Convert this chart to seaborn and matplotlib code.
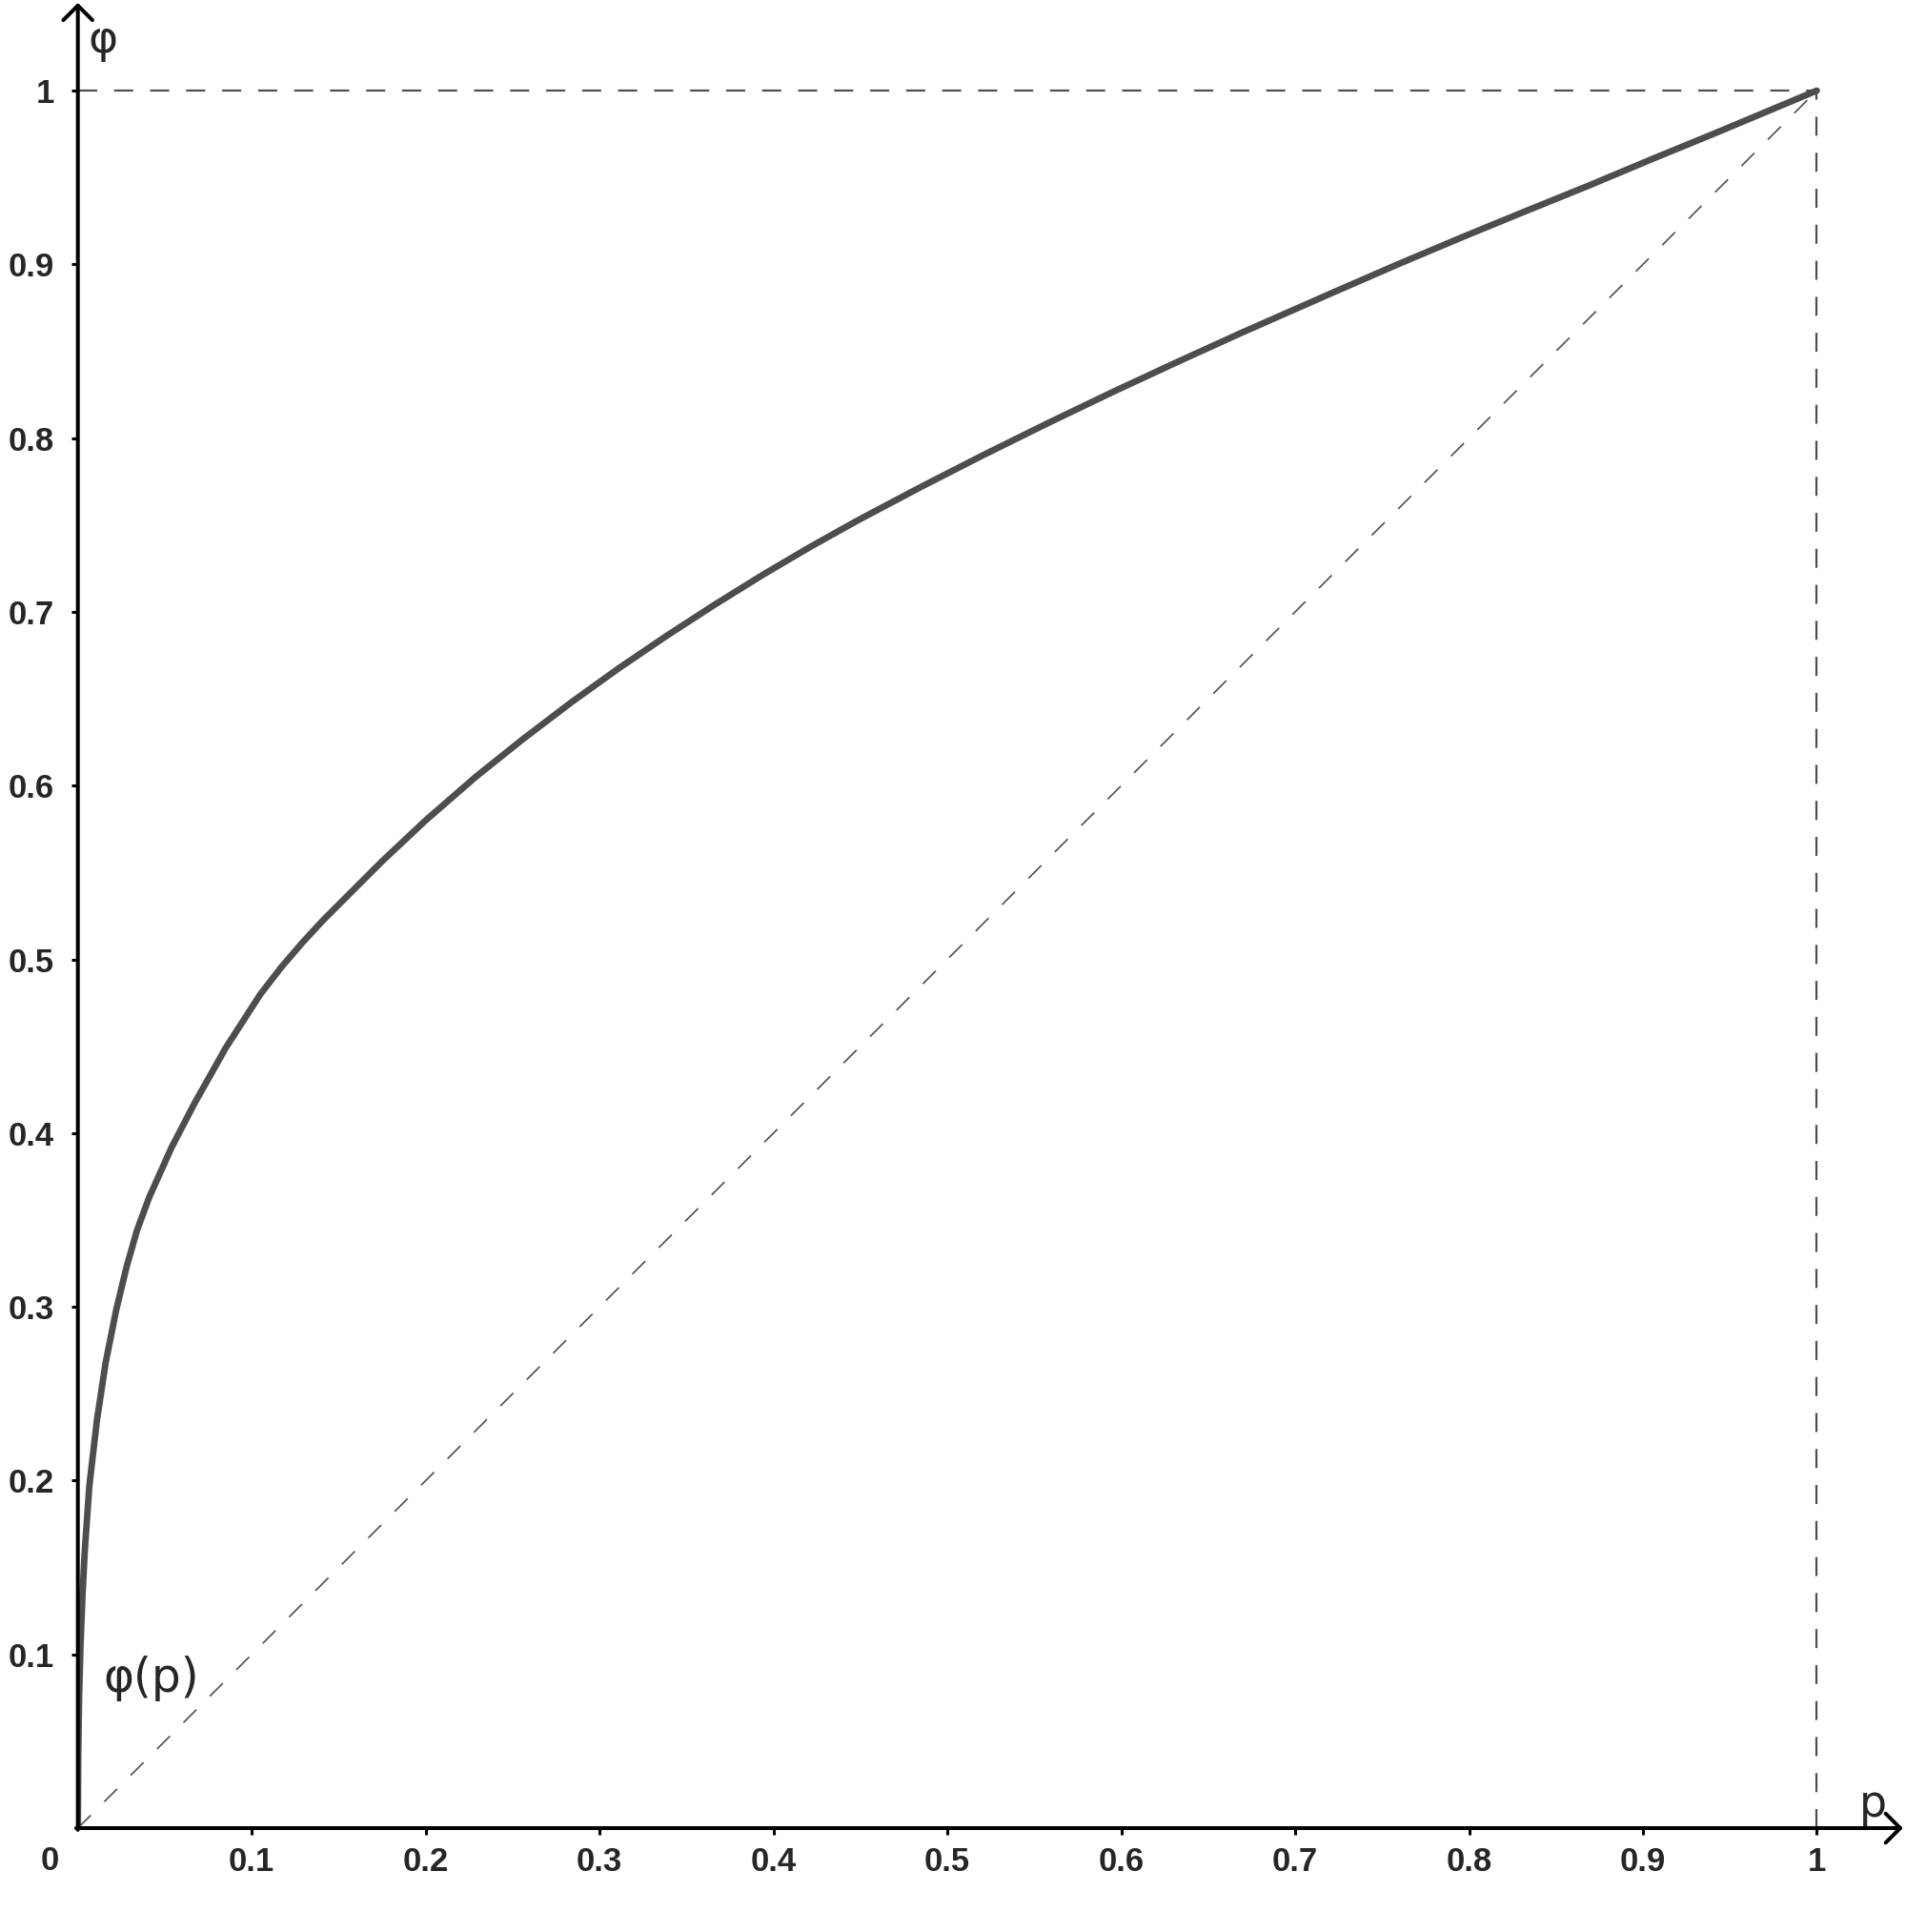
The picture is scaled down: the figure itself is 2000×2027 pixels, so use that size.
import numpy as np
import matplotlib
matplotlib.use("Agg")
import matplotlib.pyplot as plt
import seaborn as sns

# curve phi(p), values
p_vals = [0.0, 0.0002, 0.0007, 0.0015, 0.0027, 0.004, 0.0066, 0.011, 0.016,
          0.022, 0.028, 0.034, 0.041, 0.054, 0.067, 0.085, 0.105, 0.117,
          0.129, 0.141, 0.154, 0.175, 0.2, 0.229, 0.256, 0.284, 0.311, 0.339,
          0.366, 0.394, 0.421, 0.448, 0.485, 0.521, 0.558, 0.595, 0.632,
          0.668, 0.722, 0.759, 0.795, 0.832, 0.869, 0.905, 0.942, 1.0]
phi_vals = [0.0, 0.04, 0.075, 0.105, 0.135, 0.16, 0.197, 0.235, 0.268,
            0.298, 0.323, 0.344, 0.363, 0.392, 0.417, 0.449, 0.48, 0.4955,
            0.5095, 0.5225, 0.5355, 0.5565, 0.58, 0.6052, 0.6268, 0.6481, 0.6675,
            0.6865, 0.704, 0.7214, 0.7373, 0.7524, 0.772, 0.7904, 0.8087, 0.8265,
            0.8437, 0.8601, 0.8839, 0.9, 0.9152, 0.9304, 0.9454, 0.9605, 0.9757, 1.0]

# reference lines
diag_x = [0, 1]
diag_y = [0, 1]
top_x = [0, 1]
top_y = [1, 1]
right_x = [1, 1]
right_y = [0, 1]

tick_vals = [0.1, 0.2, 0.3, 0.4, 0.5, 0.6, 0.7, 0.8, 0.9, 1.0]
tick_labels = ["0.1", "0.2", "0.3", "0.4", "0.5", "0.6", "0.7", "0.8", "0.9", "1"]

sns.set_style("white")
plt.rcParams['font.family'] = ['Liberation Sans', 'DejaVu Sans']

fig = plt.figure(figsize=(20, 20.27), dpi=100)
ax = fig.add_axes([0.04085, 0.05377, 0.958, 0.9443])
ax.set_xlim(0, 1.05)
ax.set_ylim(0, 1.05)
for s in ax.spines.values():
    s.set_visible(False)

dash_col = "#4f4f4f"
ax.plot(top_x, top_y, color=dash_col, lw=1.6, linestyle=(0, (9, 8)), zorder=2)
ax.plot(right_x, right_y, color=dash_col, lw=1.6, linestyle=(0, (9, 8)), zorder=2)
ax.plot(diag_x, diag_y, color=dash_col, lw=1.2, linestyle=(0, (11.5, 12)), zorder=2)

sns.lineplot(x=p_vals, y=phi_vals, ax=ax, color="#4d4d4d", lw=4.9,
             solid_capstyle="round", solid_joinstyle="round", zorder=4)

# axes with open arrow heads
arrow = dict(arrowstyle="->,head_length=0.55,head_width=0.55", lw=2.9,
             color="black", shrinkA=0, shrinkB=0, mutation_scale=20)
ax.annotate("", xy=(1.0495, 0), xytext=(-0.001, 0), arrowprops=arrow,
            annotation_clip=False, zorder=5)
ax.annotate("", xy=(0, 1.0505), xytext=(0, -0.001), arrowprops=arrow,
            annotation_clip=False, zorder=5)

ax.set_xticks(tick_vals)
ax.set_xticklabels(tick_labels, fontweight="bold", fontsize=25)
ax.set_yticks(tick_vals)
ax.set_yticklabels(tick_labels, fontweight="bold", fontsize=25)
ax.tick_params(axis="x", direction="out", length=5, width=2.2, pad=9,
               color="black", bottom=True)
ax.tick_params(axis="y", direction="out", length=5, width=2.2, pad=13,
               color="black", left=True)

ax.text(-0.0163, -0.0187, "0", fontsize=25, fontweight="bold",
        ha="center", va="center")
lab_font = ['DejaVu Sans']
ax.text(0.0058, 1.0288, "φ", fontsize=34, family=lab_font,
        ha="left", va="center", clip_on=False)
ax.text(1.0245, 0.0135, "p", fontsize=33, family=lab_font,
        ha="left", va="center", clip_on=False)
ax.text(0.0145, 0.086, "φ(p)", fontsize=35, family=lab_font,
        ha="left", va="center")

fig.savefig("out.png", dpi=100)
